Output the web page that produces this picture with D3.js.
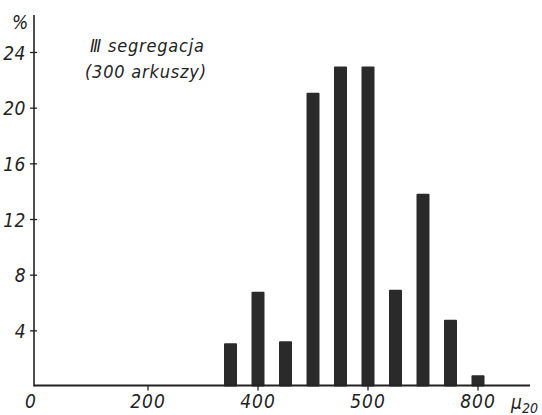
<!DOCTYPE html>
<html>
<head>
<meta charset="utf-8">
<script src="https://cdn.jsdelivr.net/npm/d3@7"></script>
<style>
  body { margin: 0; background: #fff; }
  text { font-family: "DejaVu Sans Condensed", "DejaVu Sans", sans-serif; font-stretch: condensed; font-style: oblique; fill: #222; }
</style>
</head>
<body>
<div id="chart"></div>
<script>
// thickness classes (mu) and share of sheets in %
var classes = [350, 400, 450, 500, 550, 600, 650, 700, 750, 800];
var shares = [3.1, 6.8, 3.25, 21.1, 23.0, 23.0, 6.95, 13.85, 4.8, 0.8];

var xTicks = [0, 200, 400, 600, 800];
var xTickLabels = ["0", "200", "400", "500", "800"];
var yTicks = [4, 8, 12, 16, 20, 24];

var W = 542, H = 415;
var svg = d3.select("#chart").append("svg")
    .attr("width", W)
    .attr("height", H);

var x = d3.scaleLinear().domain([0, 800]).range([38, 478]);
var y = d3.scaleLinear().domain([0, 24]).range([386.5, 52.5]);

var ink = "#222";
var axisX = 34;

// bars
svg.selectAll(".bar")
    .data(classes)
    .enter().append("rect")
    .attr("class", "bar")
    .attr("x", function(d) { return x(d) - 6.5; })
    .attr("width", 13)
    .attr("y", function(d, i) { return y(shares[i]); })
    .attr("height", function(d, i) { return y(0) - y(shares[i]); })
    .attr("rx", 1)
    .style("fill", "#2a2a2a");

// axes lines
svg.append("line")
    .attr("x1", axisX).attr("x2", axisX)
    .attr("y1", 15).attr("y2", y(0))
    .style("stroke", ink).style("stroke-width", 1.6);
svg.append("line")
    .attr("x1", axisX).attr("x2", 530)
    .attr("y1", y(0) - 1).attr("y2", y(0) - 1)
    .style("stroke", ink).style("stroke-width", 1.8);

// y ticks
var yt = svg.selectAll(".yt").data(yTicks).enter().append("g").attr("class", "yt");
yt.append("line")
    .attr("x1", axisX - 4).attr("x2", axisX + 3)
    .attr("y1", function(d) { return y(d); })
    .attr("y2", function(d) { return y(d); })
    .style("stroke", ink).style("stroke-width", 1.3);
yt.append("text")
    .attr("x", axisX - 8)
    .attr("y", function(d) { return y(d) + 7; })
    .attr("text-anchor", "end")
    .attr("letter-spacing", 0.5)
    .style("font-size", "19px")
    .text(function(d) { return d; });

// x ticks
var xt = svg.selectAll(".xt").data(xTicks).enter().append("g").attr("class", "xt");
xt.append("line")
    .attr("x1", function(d) { return x(d); })
    .attr("x2", function(d) { return x(d); })
    .attr("y1", y(0) - 1).attr("y2", y(0) + 4)
    .style("stroke", ink).style("stroke-width", 1.3)
    .style("display", function(d) { return d === 0 ? "none" : null; });
xt.append("text")
    .attr("x", function(d) { return d === 0 ? axisX - 3 : x(d); })
    .attr("y", 408)
    .attr("text-anchor", "middle")
    .attr("letter-spacing", 1)
    .style("font-size", "19px")
    .text(function(d, i) { return xTickLabels[i]; });

// unit labels
svg.append("text")
    .attr("x", 20).attr("y", 29)
    .attr("text-anchor", "middle")
    .style("font-size", "19px")
    .text("%");

var mu = svg.append("text")
    .attr("x", 511).attr("y", 409)
    .style("font-size", "19px");
mu.append("tspan").text("μ");
mu.append("tspan").attr("dy", 4).style("font-size", "14px").text("20");

// title
svg.append("text")
    .attr("x", 90).attr("y", 52)
    .attr("letter-spacing", 0.8)
    .style("font-size", "18px")
    .text("Ⅲ segregacja");
svg.append("text")
    .attr("x", 85).attr("y", 78)
    .attr("letter-spacing", 0.8)
    .style("font-size", "18px")
    .text("(300 arkuszy)");
</script>
</body>
</html>
